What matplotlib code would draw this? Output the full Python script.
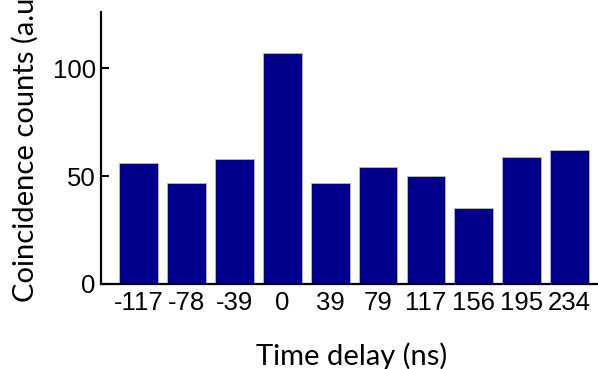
import matplotlib
matplotlib.use("Agg")
import matplotlib.pyplot as plt
import numpy as np

delays = ["-117", "-78", "-39", "0", "39", "79", "117", "156", "195", "234"]
counts = [56, 47, 58, 107, 47, 54, 50, 35, 59, 62]
y_ticks = [0, 50, 100]

fig = plt.figure(figsize=(5.98, 3.69), dpi=100)
ax = fig.add_axes([0.1684, 0.2304, 0.840, 0.737])

x = np.arange(len(counts))
ax.bar(x, counts, width=0.81, color="#00008B", edgecolor="#b8b8c8", linewidth=0.6)

ax.set_xlim(-0.789, 9.695)
ax.set_ylim(0, 126)
ax.set_xticks(x)
ax.set_xticklabels(delays, fontfamily=["Liberation Sans", "DejaVu Sans"], fontsize=18.5)
ax.set_yticks(y_ticks)
ax.set_yticklabels([str(v) for v in y_ticks], fontfamily=["Liberation Sans", "DejaVu Sans"], fontsize=18.5)

ax.tick_params(axis="x", length=0, pad=5)
ax.tick_params(axis="y", direction="in", length=6, width=1.5, pad=3.5)

for s in ["top", "right"]:
    ax.spines[s].set_visible(False)
for s in ["left", "bottom"]:
    ax.spines[s].set_linewidth(1.6)
    ax.spines[s].set_color("black")

ax.set_xlabel("Time delay (ns)", fontfamily="Lato", fontsize=21, labelpad=20)
ax.set_ylabel("Coincidence counts (a.u.)", fontfamily="Lato", fontsize=21, labelpad=10)
ax.yaxis.label.set_y(0.52)

fig.savefig("out.png", dpi=100)
